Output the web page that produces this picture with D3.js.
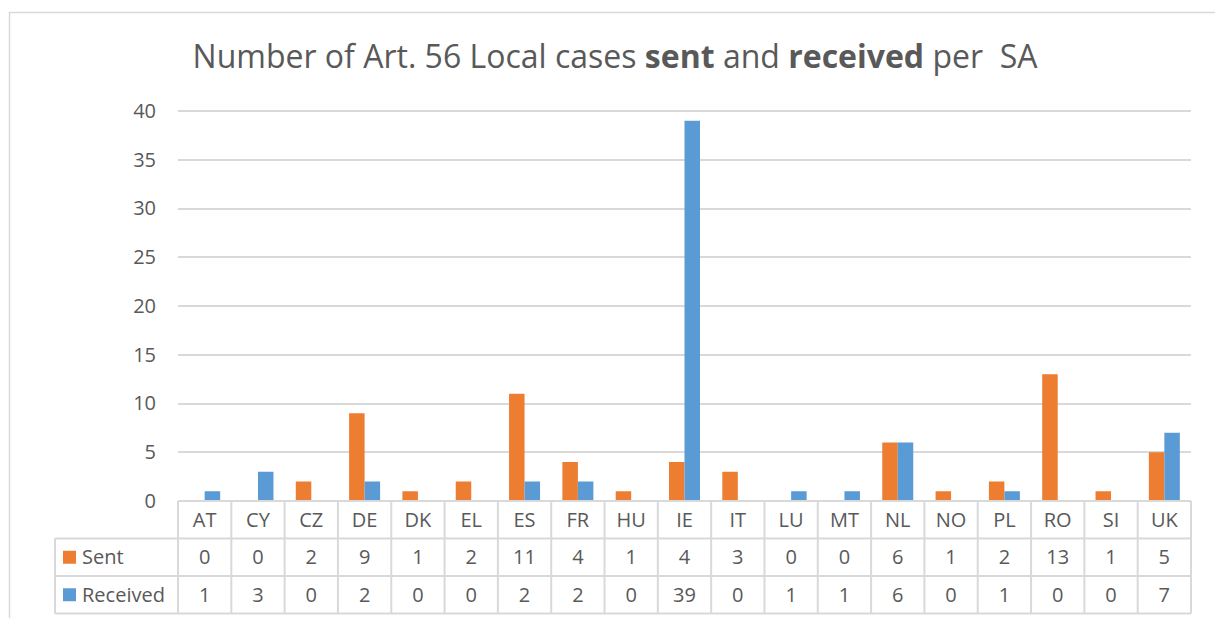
<!DOCTYPE html>
<html>
<head>
<meta charset="utf-8">
<script src="https://cdn.jsdelivr.net/npm/d3@7"></script>
<style>
  body { margin: 0; background: #fff; }
  text { font-family: "Open Sans", sans-serif; fill: #595959; }
</style>
</head>
<body>
<script>
// Datos de la figura
var categories = ['AT', 'CY', 'CZ', 'DE', 'DK', 'EL', 'ES', 'FR', 'HU', 'IE',
                  'IT', 'LU', 'MT', 'NL', 'NO', 'PL', 'RO', 'SI', 'UK'];
var sent     = [0, 0, 2, 9, 1, 2, 11, 4, 1, 4, 3, 0, 0, 6, 1, 2, 13, 1, 5];
var received = [1, 3, 0, 2, 0, 0, 2, 2, 0, 39, 0, 1, 1, 6, 0, 1, 0, 0, 7];
var yTicks   = [0, 5, 10, 15, 20, 25, 30, 35, 40];
var seriesNames  = ['Sent', 'Received'];
var seriesColors = ['#ED7D31', '#5B9BD5'];

var WIDTH = 1215, HEIGHT = 618;
var plotLeft = 178, plotRight = 1191, plotTop = 111, plotBottom = 501;
var rowH = 37.5, tableLeft = 55;

var svg = d3.select('body').append('svg')
            .attr('width', WIDTH)
            .attr('height', HEIGHT);

// marco exterior
svg.append('rect')
   .attr('x', 9.5).attr('y', 12.5)
   .attr('width', 1220).attr('height', 640)
   .attr('fill', 'none')
   .attr('stroke', '#d9d9d9')
   .attr('stroke-width', 1.5);

svg.append('text')
   .attr('x', 615).attr('y', 68)
   .attr('text-anchor', 'middle')
   .style('font-size', '32px')
   .html('Number of Art. 56 Local cases <tspan font-weight="bold">sent</tspan> and <tspan font-weight="bold">received</tspan> per&#160; SA');

var x = d3.scaleBand().domain(categories).range([plotLeft, plotRight]);
var y = d3.scaleLinear().domain([0, 40]).range([plotBottom, plotTop]);

// rejilla
svg.selectAll('line.grid')
   .data(yTicks.slice(1))
   .enter()
 .append('line')
   .attr('class', 'grid')
   .attr('x1', plotLeft).attr('x2', plotRight)
   .attr('y1', function(d) { return Math.round(y(d)); })
   .attr('y2', function(d) { return Math.round(y(d)); })
   .attr('stroke', '#d9d9d9')
   .attr('stroke-width', 2);

var yAxis = svg.append('g')
   .attr('transform', 'translate(' + plotLeft + ',0)')
   .call(d3.axisLeft(y).tickValues(yTicks).tickSize(0).tickPadding(22));
yAxis.select('.domain').remove();
yAxis.selectAll('text').style('font-size', '20px').attr('fill', '#595959')
     .attr('font-family', '"Open Sans", sans-serif');

var barW = 15.5;
var series = [sent, received];
series.forEach(function(vals, s) {
  svg.selectAll('rect.s' + s)
     .data(vals)
     .enter()
   .append('rect')
     .attr('class', 's' + s)
     .attr('x', function(d, i) { return x(categories[i]) + x.bandwidth() / 2 - (s === 0 ? barW : 0); })
     .attr('y', function(d) { return y(d); })
     .attr('width', barW)
     .attr('height', function(d) { return plotBottom - y(d); })
     .attr('fill', seriesColors[s]);
});

// tabla de datos
var grid = svg.append('g')
   .attr('stroke', '#d9d9d9')
   .attr('stroke-width', 2)
   .attr('fill', 'none');
var rowsY = [plotBottom, plotBottom + rowH, plotBottom + 2 * rowH, plotBottom + 3 * rowH];
// líneas horizontales
rowsY.forEach(function(ry, k) {
  grid.append('line')
      .attr('x1', k === 0 ? plotLeft : tableLeft).attr('x2', plotRight)
      .attr('y1', ry).attr('y2', ry);
});
// líneas verticales
categories.concat(['end']).forEach(function(c, i) {
  var cx = i < categories.length ? x(c) : plotRight;
  grid.append('line')
      .attr('x1', cx).attr('x2', cx)
      .attr('y1', plotBottom).attr('y2', rowsY[3]);
});
grid.append('line')
    .attr('x1', tableLeft).attr('x2', tableLeft)
    .attr('y1', rowsY[1]).attr('y2', rowsY[3]);

svg.selectAll('text.cat')
   .data(categories)
   .enter()
 .append('text')
   .attr('class', 'cat')
   .attr('x', function(d) { return x(d) + x.bandwidth() / 2; })
   .attr('y', plotBottom + rowH / 2 + 7)
   .attr('text-anchor', 'middle')
   .style('font-size', '20px')
   .text(function(d) { return d; });

series.forEach(function(vals, s) {
  var ry = rowsY[s + 1];
  svg.append('rect')
     .attr('x', 63).attr('y', ry + rowH / 2 - 6.5)
     .attr('width', 13).attr('height', 13)
     .attr('fill', seriesColors[s]);
  svg.append('text')
     .attr('x', 82).attr('y', ry + rowH / 2 + 7)
     .style('font-size', '20px')
     .text(seriesNames[s]);
  svg.selectAll('text.v' + s)
     .data(vals)
     .enter()
   .append('text')
     .attr('class', 'v' + s)
     .attr('x', function(d, i) { return x(categories[i]) + x.bandwidth() / 2; })
     .attr('y', ry + rowH / 2 + 7)
     .attr('text-anchor', 'middle')
     .style('font-size', '20px')
     .text(function(d) { return d; });
});
</script>
</body>
</html>
